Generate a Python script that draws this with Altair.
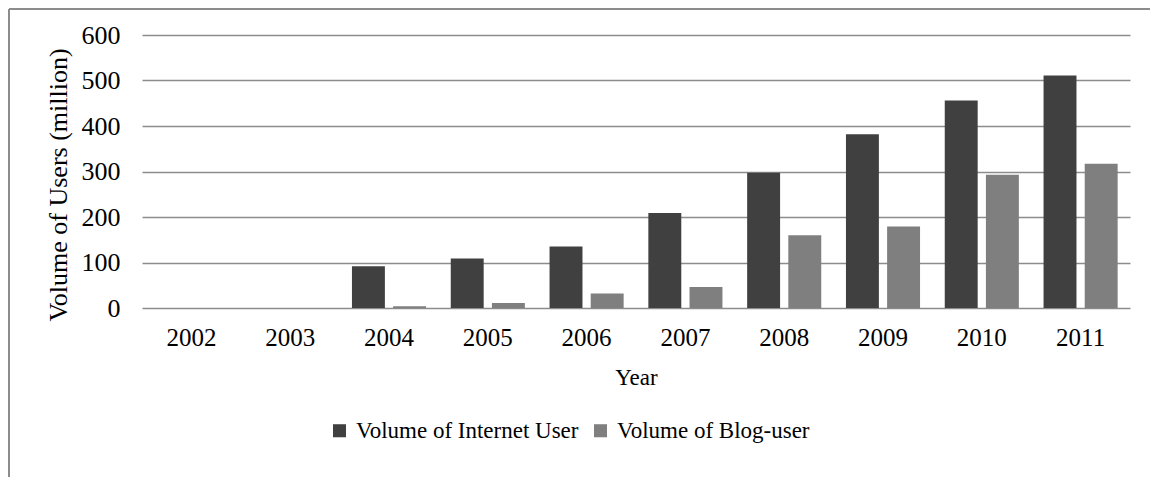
import altair as alt
import pandas as pd

years = ["2002", "2003", "2004", "2005", "2006", "2007", "2008", "2009", "2010", "2011"]
internet_users = [0, 0, 92, 109, 135, 209, 297, 382, 456, 511]
blog_users = [0, 0, 4, 11, 32, 46, 160, 179, 293, 317]
series_names = ["Volume of Internet User", "Volume of Blog-user"]
series_colors = ["#404040", "#7f7f7f"]

rows = []
for y, a, b in zip(years, internet_users, blog_users):
    rows.append({"Year": y, "Series": series_names[0], "Value": a})
    rows.append({"Year": y, "Series": series_names[1], "Value": b})
df = pd.DataFrame(rows)

FONT = "Liberation Serif"
W, H = 988, 273

bars = alt.Chart(df).mark_bar().encode(
    x=alt.X("Year:N", sort=years,
            scale=alt.Scale(paddingInner=0.25, paddingOuter=0.125),
            axis=alt.Axis(title="Year", labelAngle=0, ticks=False, domain=False,
                          labelPadding=17, titlePadding=16, labelFontSize=25,
                          labelFont=FONT, titleFont=FONT, labelColor="black", titleColor="black",
                          titleFontSize=23, titleFontWeight="normal")),
    xOffset=alt.XOffset("Series:N", sort=series_names,
                        scale=alt.Scale(paddingInner=0.2)),
    y=alt.Y("Value:Q", scale=alt.Scale(domain=[0, 600]),
            axis=alt.Axis(title="Volume of Users (million)", values=[0, 100, 200, 300, 400, 500, 600],
                          ticks=False, domain=False, labelPadding=22, titlePadding=10,
                          titleY=H / 2 + 13,
                          labelFont=FONT, titleFont=FONT, labelColor="black", titleColor="black",
                          labelFontSize=26, titleFontSize=26, titleFontWeight="normal",
                          gridColor="#8c8c8c", gridWidth=1.6)),
    color=alt.Color("Series:N", sort=series_names,
                    scale=alt.Scale(domain=series_names, range=series_colors),
                    legend=alt.Legend(title=None, orient="none", direction="horizontal",
                                      legendX=186, legendY=384, symbolType="square",
                                      symbolSize=170, symbolStrokeWidth=0, labelLimit=0,
                                      labelFontSize=23, labelOffset=5, columnPadding=10,
                                      labelFont=FONT, labelColor="black")),
)

frame_left = alt.Chart(df).mark_rule(color="#8c8c8c", strokeWidth=2).encode(
    x=alt.value(-133), y=alt.value(-26), y2=alt.value(H + 169)
)
frame_top = alt.Chart(df).mark_rule(color="#8c8c8c", strokeWidth=2).encode(
    x=alt.value(-133), x2=alt.value(W + 20), y=alt.value(-26)
)

chart = alt.layer(bars, frame_left, frame_top).properties(
    width=W, height=H,
    autosize=alt.AutoSizeParams(type="none"),
    padding={"left": 134, "top": 27, "right": 20, "bottom": 169},
).configure_view(stroke=None).configure_axis(
    labelFont=FONT, titleFont=FONT, labelColor="black", titleColor="black"
).configure_legend(labelFont=FONT)

chart.save("out.html", embed_options={"renderer": "svg", "actions": False})
